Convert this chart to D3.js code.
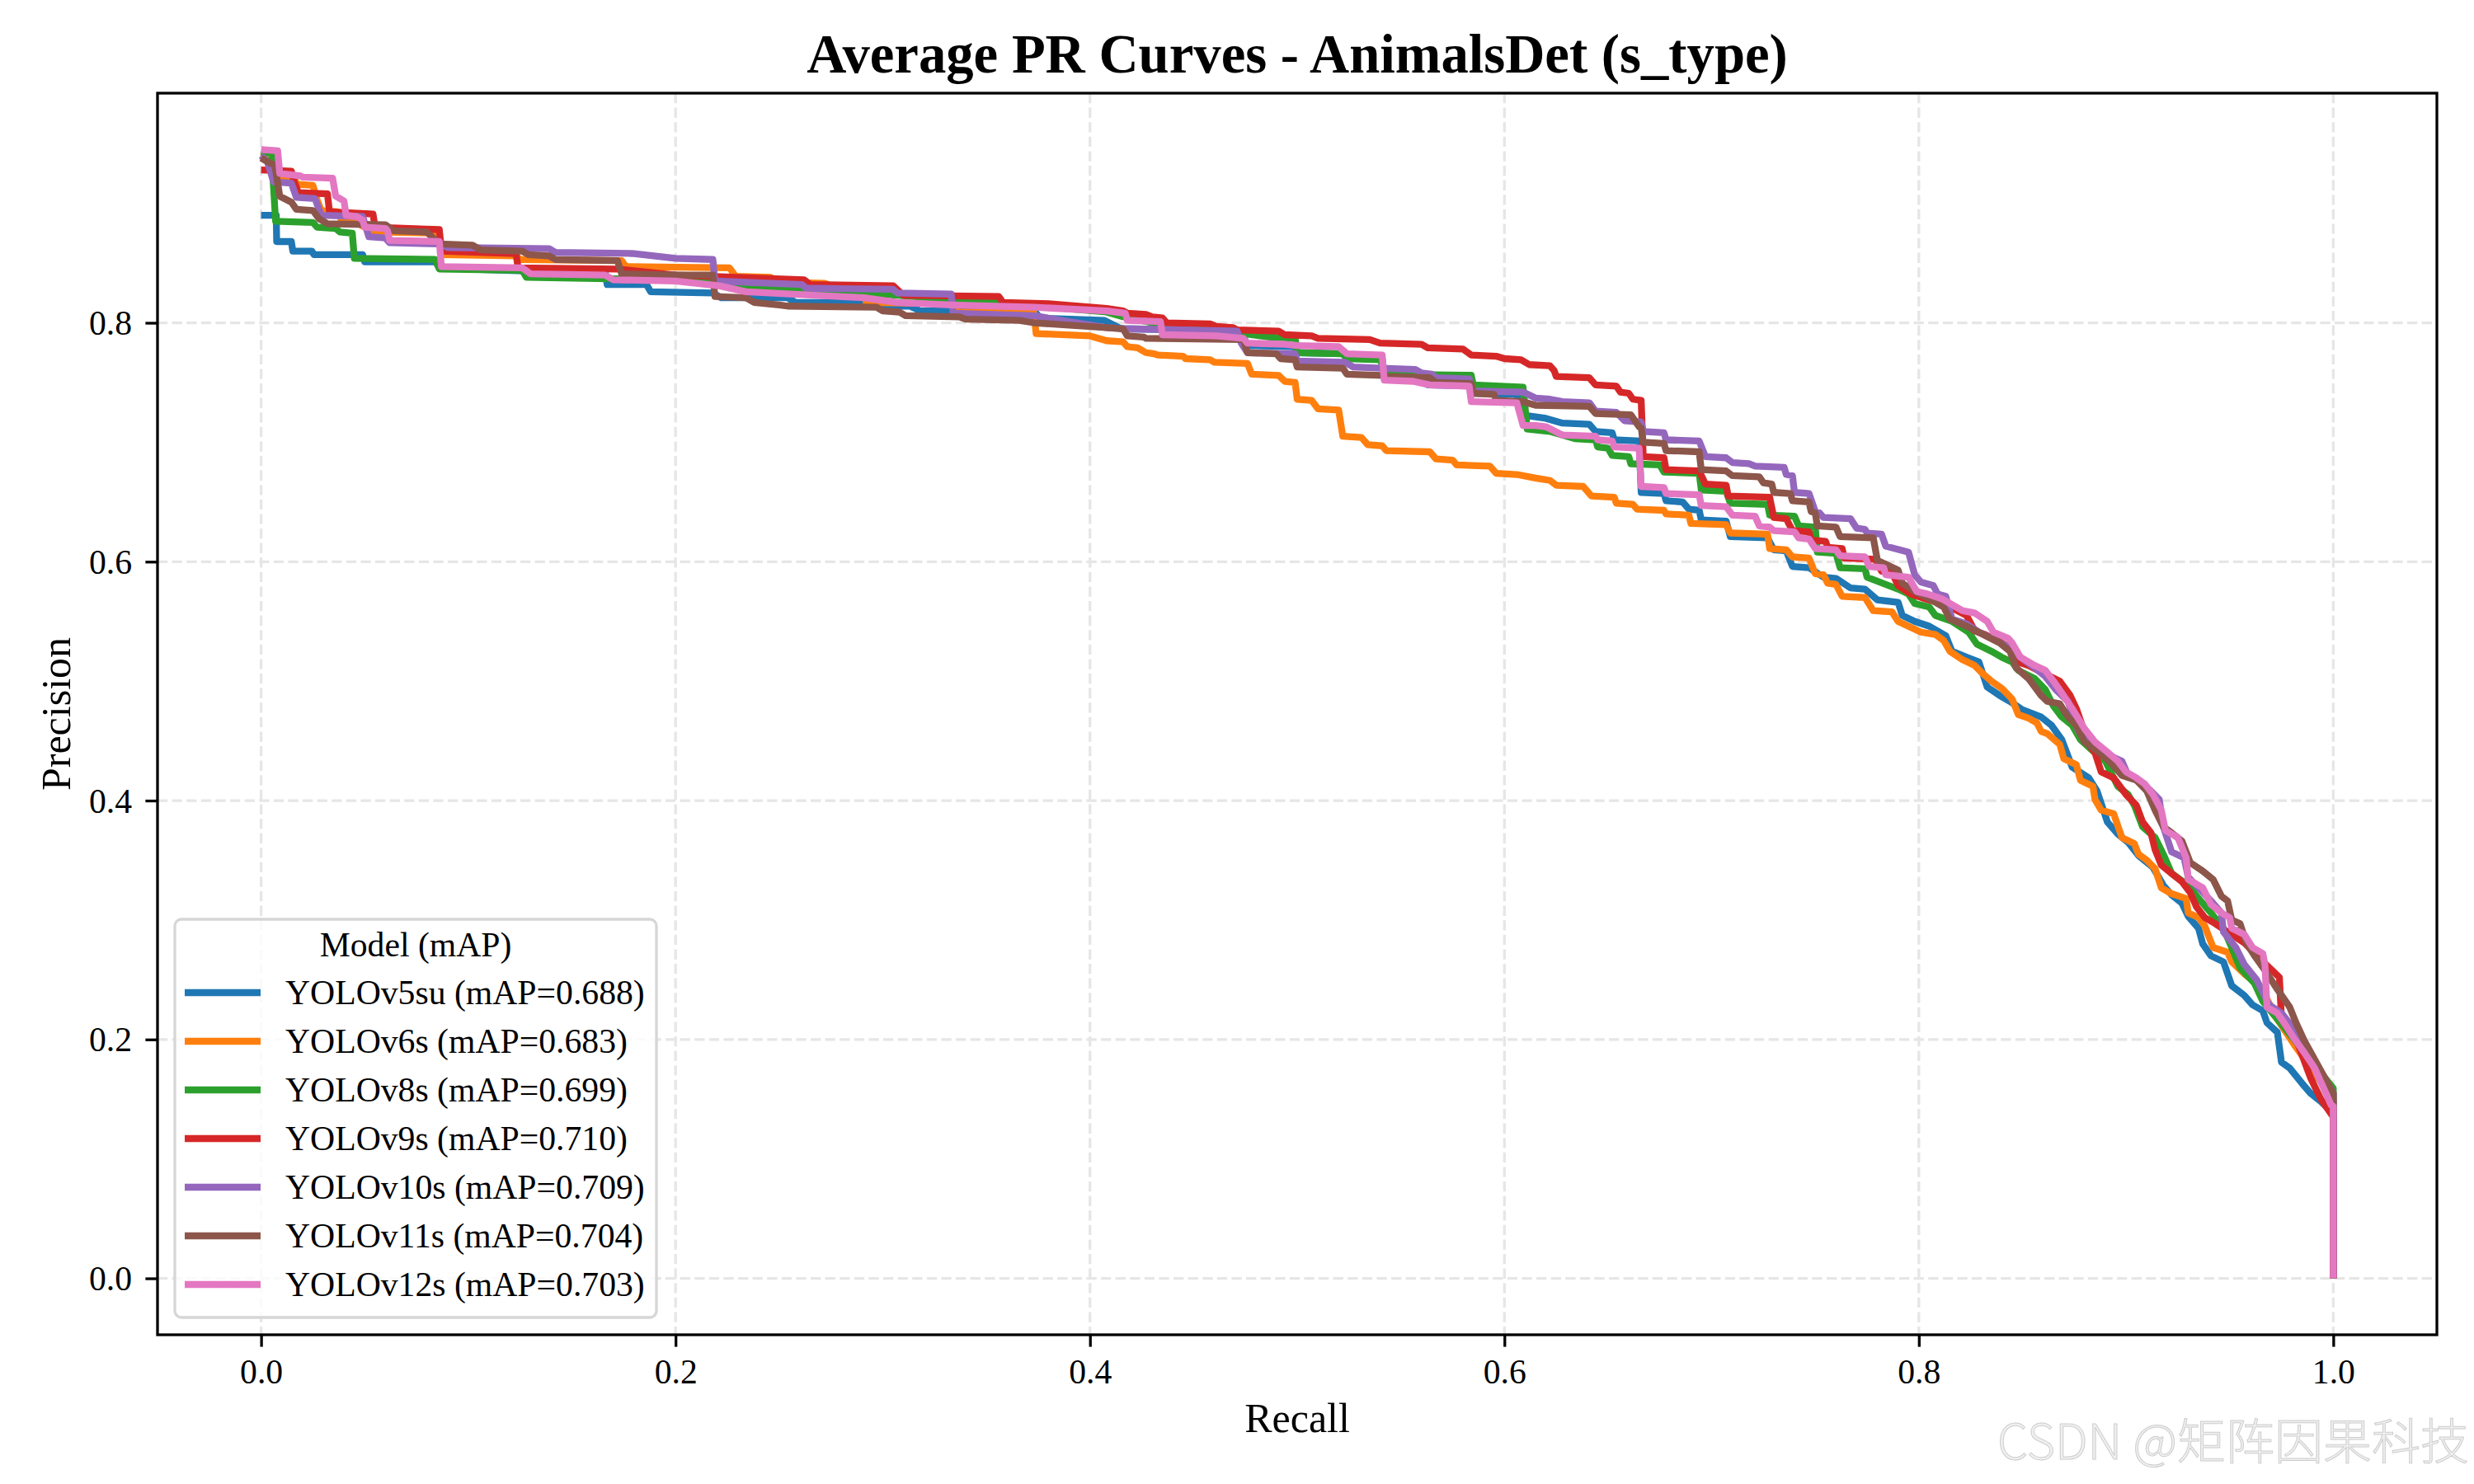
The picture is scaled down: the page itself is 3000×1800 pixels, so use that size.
<!DOCTYPE html>
<html>
<head>
<meta charset="utf-8">
<script src="https://cdn.jsdelivr.net/npm/d3@7"></script>
<style>
  body { margin: 0; background: #fff; }
  text { font-family: "Liberation Serif", "Times New Roman", serif; }
</style>
</head>
<body>
<svg id="area" width="3000" height="1800"></svg>
<script>
// model names and mAP values (legend)
const modelNames = ["YOLOv5su", "YOLOv6s", "YOLOv8s", "YOLOv9s", "YOLOv10s", "YOLOv11s", "YOLOv12s"];
const mapScores = [0.688, 0.683, 0.699, 0.710, 0.709, 0.704, 0.703];
const xTicks = [0.0, 0.2, 0.4, 0.6, 0.8, 1.0];
const yTicks = [0.0, 0.2, 0.4, 0.6, 0.8];

// [recall, precision] points
const prV5su = [[0,0.890],[0.0073,0.890],[0.0075,0.868],[0.0146,0.868],[0.0153,0.860],[0.0245,0.860],[0.0255,0.857],[0.049,0.857],[0.050,0.851],[0.084,0.851],[0.086,0.847],[0.100,0.845],[0.150,0.842],[0.166,0.842],[0.167,0.832],[0.186,0.832],[0.188,0.826],[0.218,0.825],[0.222,0.821],[0.254,0.821],[0.258,0.817],[0.291,0.817],[0.295,0.814],[0.313,0.814],[0.318,0.810],[0.373,0.810],[0.376,0.804],[0.407,0.802],[0.415,0.795],[0.447,0.794],[0.450,0.790],[0.474,0.789],[0.476,0.781],[0.499,0.780],[0.500,0.775],[0.523,0.774],[0.524,0.771],[0.541,0.770],[0.542,0.757],[0.559,0.756],[0.563,0.748],[0.584,0.747],[0.585,0.741],[0.606,0.740],[0.608,0.723],[0.620,0.720],[0.628,0.716],[0.641,0.715],[0.644,0.709],[0.652,0.708],[0.653,0.702],[0.665,0.701],[0.666,0.658],[0.677,0.657],[0.678,0.651],[0.686,0.650],[0.689,0.644],[0.694,0.643],[0.695,0.635],[0.707,0.634],[0.709,0.621],[0.727,0.620],[0.730,0.610],[0.736,0.609],[0.739,0.596],[0.747,0.595],[0.754,0.587],[0.760,0.586],[0.767,0.578],[0.774,0.577],[0.780,0.568],[0.790,0.566],[0.792,0.555],[0.798,0.550],[0.805,0.546],[0.813,0.538],[0.816,0.525],[0.823,0.520],[0.829,0.516],[0.833,0.495],[0.839,0.488],[0.844,0.483],[0.850,0.476],[0.859,0.470],[0.864,0.463],[0.869,0.451],[0.874,0.428],[0.882,0.419],[0.886,0.408],[0.891,0.382],[0.896,0.372],[0.901,0.365],[0.906,0.354],[0.913,0.344],[0.918,0.329],[0.922,0.321],[0.927,0.314],[0.930,0.303],[0.935,0.293],[0.937,0.280],[0.941,0.270],[0.947,0.265],[0.951,0.245],[0.957,0.237],[0.961,0.229],[0.966,0.224],[0.968,0.214],[0.973,0.206],[0.975,0.181],[0.979,0.176],[0.986,0.161],[0.989,0.155],[0.994,0.148],[1.0,0.138],[1.0,0.0]];
const prV6s = [[0,0.943],[0.007,0.940],[0.008,0.923],[0.016,0.922],[0.017,0.916],[0.025,0.915],[0.027,0.903],[0.029,0.894],[0.037,0.893],[0.039,0.885],[0.046,0.884],[0.050,0.880],[0.055,0.876],[0.086,0.875],[0.087,0.857],[0.123,0.856],[0.125,0.853],[0.174,0.852],[0.176,0.847],[0.226,0.846],[0.229,0.839],[0.246,0.838],[0.248,0.834],[0.272,0.833],[0.275,0.831],[0.291,0.830],[0.292,0.817],[0.333,0.816],[0.336,0.809],[0.373,0.808],[0.374,0.791],[0.400,0.789],[0.408,0.785],[0.416,0.784],[0.418,0.780],[0.423,0.779],[0.427,0.775],[0.431,0.774],[0.433,0.773],[0.445,0.772],[0.446,0.770],[0.458,0.769],[0.460,0.767],[0.476,0.766],[0.478,0.757],[0.491,0.756],[0.494,0.751],[0.499,0.750],[0.500,0.736],[0.507,0.735],[0.510,0.728],[0.520,0.727],[0.522,0.705],[0.531,0.704],[0.534,0.698],[0.541,0.697],[0.543,0.693],[0.564,0.692],[0.567,0.686],[0.575,0.685],[0.577,0.681],[0.593,0.680],[0.596,0.674],[0.606,0.673],[0.615,0.670],[0.622,0.668],[0.625,0.664],[0.638,0.663],[0.642,0.655],[0.653,0.654],[0.654,0.649],[0.662,0.648],[0.664,0.644],[0.677,0.643],[0.678,0.640],[0.689,0.639],[0.690,0.632],[0.707,0.631],[0.709,0.624],[0.727,0.623],[0.728,0.611],[0.736,0.610],[0.739,0.604],[0.747,0.603],[0.750,0.590],[0.754,0.589],[0.756,0.582],[0.760,0.581],[0.763,0.571],[0.774,0.570],[0.778,0.559],[0.787,0.558],[0.790,0.550],[0.801,0.541],[0.808,0.539],[0.812,0.534],[0.815,0.525],[0.821,0.518],[0.827,0.513],[0.831,0.506],[0.835,0.500],[0.840,0.494],[0.845,0.485],[0.848,0.472],[0.853,0.469],[0.857,0.465],[0.859,0.458],[0.862,0.456],[0.868,0.447],[0.870,0.435],[0.876,0.430],[0.878,0.417],[0.884,0.412],[0.885,0.401],[0.888,0.392],[0.894,0.389],[0.898,0.369],[0.904,0.364],[0.906,0.355],[0.910,0.350],[0.914,0.343],[0.917,0.327],[0.922,0.322],[0.929,0.318],[0.930,0.306],[0.935,0.302],[0.938,0.295],[0.942,0.277],[0.949,0.273],[0.951,0.265],[0.957,0.255],[0.963,0.247],[0.967,0.237],[0.973,0.217],[0.981,0.196],[1.0,0.150],[1.0,0.0]];
const prV8s = [[0,0.943],[0.005,0.942],[0.007,0.885],[0.025,0.884],[0.027,0.880],[0.036,0.879],[0.038,0.876],[0.044,0.875],[0.045,0.854],[0.084,0.853],[0.086,0.845],[0.126,0.844],[0.128,0.838],[0.200,0.836],[0.240,0.830],[0.300,0.824],[0.355,0.817],[0.408,0.809],[0.416,0.805],[0.430,0.800],[0.458,0.796],[0.474,0.791],[0.487,0.788],[0.499,0.787],[0.500,0.775],[0.522,0.774],[0.524,0.770],[0.540,0.769],[0.543,0.757],[0.584,0.756],[0.585,0.748],[0.609,0.746],[0.611,0.711],[0.622,0.709],[0.634,0.703],[0.644,0.702],[0.645,0.696],[0.650,0.695],[0.652,0.689],[0.660,0.688],[0.661,0.682],[0.675,0.681],[0.677,0.675],[0.694,0.674],[0.695,0.660],[0.707,0.659],[0.709,0.649],[0.727,0.648],[0.728,0.639],[0.740,0.638],[0.742,0.630],[0.750,0.629],[0.751,0.608],[0.760,0.607],[0.762,0.595],[0.774,0.594],[0.775,0.587],[0.790,0.577],[0.795,0.573],[0.798,0.565],[0.805,0.562],[0.808,0.555],[0.816,0.550],[0.824,0.541],[0.828,0.531],[0.835,0.525],[0.840,0.520],[0.845,0.516],[0.848,0.509],[0.856,0.502],[0.861,0.493],[0.865,0.479],[0.869,0.470],[0.874,0.463],[0.878,0.451],[0.885,0.440],[0.890,0.433],[0.896,0.412],[0.901,0.405],[0.904,0.396],[0.908,0.378],[0.914,0.369],[0.918,0.355],[0.922,0.339],[0.930,0.329],[0.935,0.318],[0.941,0.306],[0.947,0.293],[0.951,0.277],[0.955,0.260],[0.962,0.247],[0.966,0.232],[0.973,0.217],[0.983,0.196],[1.0,0.159],[1.0,0.0]];
const prV9s = [[0,0.928],[0.0146,0.927],[0.016,0.918],[0.018,0.909],[0.032,0.908],[0.033,0.893],[0.054,0.891],[0.055,0.880],[0.086,0.878],[0.087,0.860],[0.123,0.858],[0.124,0.846],[0.172,0.845],[0.200,0.840],[0.262,0.836],[0.265,0.832],[0.305,0.831],[0.310,0.823],[0.356,0.822],[0.358,0.817],[0.380,0.816],[0.408,0.812],[0.416,0.810],[0.418,0.808],[0.427,0.807],[0.430,0.805],[0.435,0.804],[0.437,0.800],[0.458,0.799],[0.461,0.797],[0.469,0.796],[0.471,0.794],[0.491,0.793],[0.494,0.790],[0.507,0.789],[0.510,0.787],[0.535,0.786],[0.540,0.783],[0.560,0.782],[0.563,0.779],[0.580,0.778],[0.584,0.773],[0.596,0.772],[0.600,0.770],[0.608,0.769],[0.612,0.765],[0.622,0.764],[0.624,0.760],[0.625,0.755],[0.641,0.754],[0.644,0.748],[0.654,0.747],[0.656,0.742],[0.660,0.741],[0.662,0.736],[0.666,0.735],[0.667,0.688],[0.677,0.687],[0.678,0.677],[0.694,0.676],[0.697,0.665],[0.707,0.664],[0.708,0.655],[0.728,0.654],[0.730,0.637],[0.736,0.636],[0.739,0.626],[0.747,0.625],[0.748,0.618],[0.755,0.617],[0.756,0.612],[0.763,0.611],[0.764,0.603],[0.779,0.602],[0.782,0.592],[0.787,0.591],[0.790,0.580],[0.796,0.573],[0.803,0.569],[0.813,0.564],[0.823,0.555],[0.827,0.542],[0.832,0.539],[0.840,0.532],[0.845,0.527],[0.848,0.516],[0.853,0.513],[0.861,0.506],[0.868,0.500],[0.873,0.488],[0.876,0.477],[0.882,0.447],[0.885,0.440],[0.888,0.424],[0.894,0.419],[0.900,0.405],[0.905,0.396],[0.908,0.382],[0.912,0.373],[0.914,0.359],[0.917,0.346],[0.922,0.339],[0.927,0.332],[0.931,0.323],[0.934,0.311],[0.938,0.302],[0.943,0.297],[0.949,0.290],[0.957,0.281],[0.965,0.267],[0.974,0.252],[0.975,0.217],[0.983,0.196],[0.989,0.168],[0.994,0.150],[1.0,0.135],[1.0,0.0]];
const prV10s = [[0,0.940],[0.003,0.935],[0.006,0.918],[0.0146,0.917],[0.017,0.905],[0.026,0.904],[0.029,0.890],[0.049,0.889],[0.052,0.872],[0.060,0.871],[0.062,0.867],[0.086,0.866],[0.090,0.863],[0.139,0.862],[0.142,0.859],[0.179,0.858],[0.200,0.854],[0.218,0.853],[0.219,0.835],[0.261,0.832],[0.263,0.829],[0.305,0.828],[0.307,0.825],[0.333,0.824],[0.334,0.808],[0.373,0.806],[0.386,0.802],[0.408,0.796],[0.418,0.795],[0.471,0.793],[0.473,0.783],[0.476,0.775],[0.499,0.774],[0.500,0.768],[0.523,0.767],[0.527,0.763],[0.541,0.762],[0.557,0.761],[0.560,0.758],[0.565,0.757],[0.567,0.754],[0.583,0.753],[0.585,0.743],[0.609,0.742],[0.615,0.737],[0.622,0.736],[0.628,0.734],[0.641,0.733],[0.644,0.726],[0.654,0.725],[0.658,0.718],[0.666,0.717],[0.667,0.709],[0.677,0.708],[0.678,0.702],[0.694,0.701],[0.697,0.688],[0.707,0.687],[0.710,0.683],[0.718,0.682],[0.721,0.680],[0.735,0.679],[0.736,0.673],[0.739,0.672],[0.740,0.658],[0.747,0.657],[0.750,0.642],[0.752,0.641],[0.754,0.637],[0.767,0.636],[0.770,0.628],[0.774,0.627],[0.775,0.624],[0.782,0.623],[0.784,0.613],[0.795,0.608],[0.798,0.589],[0.801,0.583],[0.807,0.580],[0.809,0.573],[0.813,0.571],[0.816,0.552],[0.823,0.548],[0.829,0.541],[0.837,0.534],[0.845,0.527],[0.849,0.520],[0.856,0.511],[0.861,0.504],[0.866,0.493],[0.872,0.483],[0.877,0.458],[0.882,0.451],[0.888,0.444],[0.893,0.437],[0.898,0.433],[0.901,0.421],[0.906,0.417],[0.912,0.408],[0.916,0.401],[0.918,0.378],[0.922,0.357],[0.928,0.352],[0.930,0.336],[0.935,0.327],[0.941,0.316],[0.946,0.306],[0.947,0.290],[0.953,0.277],[0.957,0.263],[0.963,0.250],[0.969,0.229],[0.975,0.222],[0.981,0.209],[0.986,0.196],[1.0,0.155],[1.0,0.0]];
const prV11s = [[0,0.938],[0.004,0.934],[0.0066,0.932],[0.009,0.906],[0.0146,0.901],[0.017,0.895],[0.025,0.894],[0.028,0.887],[0.032,0.883],[0.060,0.882],[0.064,0.877],[0.080,0.876],[0.086,0.866],[0.102,0.865],[0.106,0.861],[0.126,0.860],[0.129,0.857],[0.139,0.856],[0.142,0.853],[0.172,0.852],[0.174,0.841],[0.200,0.840],[0.218,0.840],[0.219,0.822],[0.234,0.821],[0.238,0.817],[0.250,0.815],[0.254,0.814],[0.297,0.813],[0.300,0.810],[0.308,0.809],[0.311,0.806],[0.337,0.805],[0.340,0.803],[0.366,0.802],[0.373,0.800],[0.408,0.796],[0.416,0.795],[0.418,0.789],[0.426,0.788],[0.427,0.787],[0.474,0.786],[0.476,0.775],[0.490,0.774],[0.492,0.770],[0.499,0.769],[0.500,0.763],[0.522,0.762],[0.524,0.757],[0.541,0.756],[0.543,0.755],[0.564,0.754],[0.567,0.750],[0.584,0.749],[0.585,0.741],[0.595,0.740],[0.596,0.735],[0.609,0.734],[0.615,0.731],[0.641,0.730],[0.644,0.724],[0.661,0.723],[0.665,0.713],[0.666,0.712],[0.667,0.700],[0.677,0.699],[0.678,0.693],[0.694,0.692],[0.695,0.677],[0.707,0.676],[0.710,0.672],[0.723,0.671],[0.725,0.666],[0.729,0.665],[0.730,0.658],[0.738,0.657],[0.739,0.651],[0.747,0.650],[0.748,0.642],[0.750,0.641],[0.751,0.630],[0.760,0.629],[0.762,0.621],[0.778,0.620],[0.780,0.601],[0.790,0.593],[0.792,0.582],[0.798,0.575],[0.805,0.569],[0.812,0.562],[0.815,0.552],[0.823,0.546],[0.831,0.539],[0.839,0.532],[0.844,0.525],[0.847,0.511],[0.853,0.502],[0.859,0.488],[0.862,0.483],[0.868,0.481],[0.872,0.470],[0.876,0.463],[0.880,0.449],[0.886,0.442],[0.893,0.431],[0.898,0.421],[0.905,0.417],[0.910,0.408],[0.914,0.392],[0.918,0.378],[0.922,0.373],[0.927,0.366],[0.931,0.348],[0.937,0.341],[0.942,0.334],[0.946,0.320],[0.949,0.316],[0.951,0.300],[0.955,0.297],[0.958,0.281],[0.962,0.270],[0.967,0.258],[0.973,0.242],[0.979,0.227],[0.982,0.214],[0.986,0.199],[1.0,0.155],[1.0,0.0]];
const prV12s = [[0,0.945],[0.008,0.944],[0.009,0.925],[0.019,0.923],[0.020,0.922],[0.0345,0.921],[0.036,0.906],[0.040,0.902],[0.041,0.890],[0.046,0.889],[0.048,0.887],[0.049,0.886],[0.050,0.880],[0.060,0.879],[0.061,0.877],[0.062,0.869],[0.086,0.868],[0.087,0.847],[0.126,0.846],[0.130,0.841],[0.166,0.840],[0.170,0.836],[0.200,0.835],[0.221,0.831],[0.234,0.826],[0.267,0.823],[0.291,0.821],[0.307,0.817],[0.333,0.815],[0.373,0.813],[0.408,0.810],[0.417,0.808],[0.418,0.802],[0.434,0.801],[0.435,0.790],[0.461,0.789],[0.474,0.787],[0.476,0.783],[0.494,0.782],[0.500,0.781],[0.520,0.780],[0.524,0.774],[0.541,0.773],[0.542,0.752],[0.556,0.751],[0.564,0.748],[0.583,0.747],[0.584,0.734],[0.606,0.733],[0.609,0.714],[0.615,0.714],[0.620,0.713],[0.628,0.706],[0.644,0.705],[0.645,0.702],[0.652,0.701],[0.653,0.696],[0.665,0.695],[0.666,0.663],[0.677,0.662],[0.678,0.657],[0.694,0.656],[0.695,0.647],[0.707,0.646],[0.710,0.639],[0.721,0.638],[0.723,0.630],[0.728,0.629],[0.730,0.626],[0.740,0.625],[0.742,0.620],[0.747,0.619],[0.750,0.611],[0.760,0.610],[0.762,0.605],[0.774,0.604],[0.776,0.596],[0.783,0.595],[0.784,0.589],[0.795,0.587],[0.799,0.575],[0.804,0.573],[0.811,0.569],[0.816,0.564],[0.821,0.559],[0.827,0.557],[0.833,0.550],[0.836,0.541],[0.843,0.536],[0.845,0.532],[0.849,0.520],[0.856,0.513],[0.861,0.509],[0.865,0.500],[0.869,0.490],[0.874,0.477],[0.880,0.460],[0.885,0.449],[0.890,0.442],[0.896,0.433],[0.900,0.424],[0.905,0.419],[0.909,0.414],[0.913,0.405],[0.917,0.392],[0.919,0.375],[0.925,0.369],[0.929,0.352],[0.930,0.334],[0.937,0.327],[0.941,0.313],[0.946,0.306],[0.950,0.302],[0.951,0.293],[0.957,0.288],[0.961,0.277],[0.966,0.272],[0.967,0.263],[0.968,0.227],[0.973,0.222],[0.977,0.212],[0.981,0.201],[0.986,0.189],[0.991,0.176],[0.999,0.145],[1.0,0.144],[1.0,0.0]];

const curves = [prV5su, prV6s, prV8s, prV9s, prV10s, prV11s, prV12s];
const colors = ["#1f77b4", "#ff7f0e", "#2ca02c", "#d62728", "#9467bd", "#8c564b", "#e377c2"];

const svg = d3.select("#area");
const axLeft = 191, axRight = 2955, axTop = 113, axBottom = 1619;

const x = d3.scaleLinear().domain([-0.05, 1.05]).range([axLeft, axRight]);
const y = d3.scaleLinear().domain([-0.04725, 0.99225]).range([axBottom, axTop]);

svg.append("rect").attr("width", 3000).attr("height", 1800).attr("fill", "#fff");

svg.append("defs").append("clipPath").attr("id", "plotclip")
  .append("rect").attr("x", axLeft).attr("y", axTop)
  .attr("width", axRight - axLeft).attr("height", axBottom - axTop);

// grid
const grid = svg.append("g").attr("class", "grid")
  .attr("stroke", "#e6e6e6").attr("stroke-width", 3.3)
  .attr("stroke-dasharray", "12.3,5.3");
grid.selectAll("line.gx").data(xTicks).join("line").attr("class", "gx")
  .attr("x1", d => x(d)).attr("x2", d => x(d)).attr("y1", axTop).attr("y2", axBottom);
grid.selectAll("line.gy").data(yTicks).join("line").attr("class", "gy")
  .attr("y1", d => y(d)).attr("y2", d => y(d)).attr("x1", axLeft).attr("x2", axRight);

// curves
const line = d3.line().x(d => x(d[0])).y(d => y(d[1]));
svg.append("g").attr("clip-path", "url(#plotclip)")
  .selectAll("path").data(curves).join("path")
  .attr("d", line)
  .attr("fill", "none")
  .attr("stroke", (d, i) => colors[i])
  .attr("stroke-width", 8.3)
  .attr("stroke-linejoin", "round")
  .attr("stroke-linecap", "butt");

// axes
const xAxis = d3.axisBottom(x).tickValues(xTicks).tickFormat(d3.format(".1f"))
  .tickSize(14.6).tickSizeOuter(0);
const gx = svg.append("g").attr("transform", "translate(0," + axBottom + ")").call(xAxis);
const yAxis = d3.axisLeft(y).tickValues(yTicks).tickFormat(d3.format(".1f"))
  .tickSize(14.6).tickSizeOuter(0);
const gy = svg.append("g").attr("transform", "translate(" + axLeft + ",0)").call(yAxis);

[gx, gy].forEach(g => {
  g.select(".domain").remove();
  g.selectAll(".tick line").attr("stroke", "#000").attr("stroke-width", 3.3);
  g.selectAll(".tick text").attr("fill", "#000")
    .style("font-family", "'Liberation Serif', serif").style("font-size", "41.7px");
});
gx.selectAll(".tick text").attr("y", 59).attr("dy", 0);
gy.selectAll(".tick text").attr("x", -31).attr("dy", 0).attr("y", 14);

// frame
svg.append("rect").attr("x", axLeft).attr("y", axTop)
  .attr("width", axRight - axLeft).attr("height", axBottom - axTop)
  .attr("fill", "none").attr("stroke", "#000").attr("stroke-width", 3.3);

// title and labels
svg.append("text").attr("x", (axLeft + axRight) / 2).attr("y", 88)
  .attr("text-anchor", "middle").style("font-size", "66.7px").style("font-weight", "bold")
  .text("Average PR Curves - AnimalsDet (s_type)");
svg.append("text").attr("x", (axLeft + axRight) / 2).attr("y", 1737)
  .attr("text-anchor", "middle").style("font-size", "50px").text("Recall");
svg.append("text").attr("transform", "translate(85," + (axTop + axBottom) / 2 + ") rotate(-90)")
  .attr("text-anchor", "middle").style("font-size", "50px").text("Precision");

// legend
const legend = svg.append("g").attr("class", "legend");
legend.append("rect").attr("x", 212).attr("y", 1115).attr("width", 584).attr("height", 483)
  .attr("rx", 8).attr("fill", "#fff").attr("fill-opacity", 0.8)
  .attr("stroke", "#d6d6d6").attr("stroke-width", 3.3);
legend.append("text").attr("x", 504).attr("y", 1160).attr("text-anchor", "middle")
  .style("font-size", "41.7px").text("Model (mAP)");
const items = legend.selectAll("g.item").data(modelNames).join("g").attr("class", "item")
  .attr("transform", (d, i) => "translate(0," + (1204 + i * 59) + ")");
items.append("line").attr("x1", 224).attr("x2", 316).attr("y1", 0).attr("y2", 0)
  .attr("stroke", (d, i) => colors[i]).attr("stroke-width", 8.3);
items.append("text").attr("x", 346).attr("y", 14).style("font-size", "41.7px")
  .text((d, i) => d + " (mAP=" + mapScores[i].toFixed(3) + ")");

// watermark
svg.append("text").attr("x", 2994).attr("y", 1770).attr("text-anchor", "end")
  .style("font-family", "'Noto Sans CJK SC', 'Noto Sans', sans-serif").style("font-size", "59px")
  .style("font-weight", 300)
  .attr("fill", "#f0f0f0").attr("stroke", "#cdcdcd").attr("stroke-width", 1)
  .text("CSDN @矩阵因果科技");
</script>
</body>
</html>
